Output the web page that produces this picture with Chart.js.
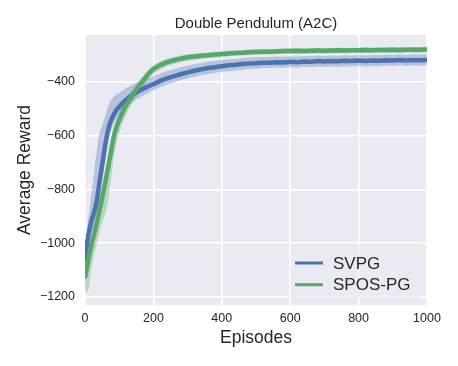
<!DOCTYPE html>
<html>
<head>
<meta charset="utf-8">
<script src="https://cdn.jsdelivr.net/npm/chart.js@4/dist/chart.umd.min.js"></script>
<style>
  html, body { margin: 0; padding: 0; background: #ffffff; }
  canvas { display: block; }
</style>
</head>
<body>
<canvas id="c" width="458" height="366"></canvas>
<script>
// ---- data ----
const chartTitle = 'Double Pendulum (A2C)';
const episodes = [0,5,10,15,20,25,30,35,40,45,50,55,60,65,70,75,80,85,90,95,100,
  110,120,130,140,150,160,170,180,190,200,
  220,240,260,280,300,320,340,360,380,400,420,440,460,480,500,520,540,560,580,600,
  620,640,660,680,700,720,740,760,780,800,820,840,860,880,900,920,940,960,980,1000];

const svpgMean = [-1070,-1010,-968,-938,-912,-892,-870,-840,-795,-752,-712,-670,-628,-592,-566,-547,-532,-519,-508,-499,-492,
  -478,-466,-456,-447,-439,-432,-425,-419,-413,-408,
  -396,-386,-378,-371,-364,-358,-353,-348,-345,-341,-338,-336,-333,-331,-330,-328,-328,-326,-327,-325,
  -326,-324,-325,-322,-324,-322,-323,-321,-322,-320,-322,-320,-321,-319,-320,-318,-320,-318,-319,-318];

const svpgUpSpread = [30,50,65,80,107,140,170,190,195,175,150,128,105,92,84,78,72,66,60,56,52,
  46,43,40,38,36,34,32,31,30,29,
  28,27,26,26,25,25,24,24,23,23,23,22,22,22,22,21,21,21,21,21,
  21,21,21,21,21,21,21,21,21,21,21,21,21,21,21,21,21,21,21,21];

const svpgDownSpread = [40,45,45,45,48,50,50,50,50,48,46,44,42,40,38,36,34,33,32,31,30,
  30,29,28,27,26,26,25,25,24,24,
  23,23,23,22,22,22,22,22,21,21,21,21,21,21,21,20,20,20,20,20,
  20,20,20,20,20,20,20,20,20,20,20,20,20,20,20,20,20,20,20,20];

const sposMean = [-1130,-1095,-1060,-1028,-1000,-975,-950,-922,-893,-863,-832,-800,-768,-735,-700,-666,-630,-598,-576,-558,-542,
  -513,-488,-466,-447,-429,-411,-395,-378,-364,-352,
  -337,-326,-319,-313,-308,-305,-302,-300,-298,-296,-294,-292,-291,-289,-288,-287,-287,-286,-285,-285,
  -284,-285,-284,-283,-284,-283,-282,-283,-282,-282,-281,-282,-281,-281,-280,-281,-280,-280,-280,-279];

const sposUpSpread = [30,35,40,40,40,40,40,40,40,40,40,40,40,38,36,35,34,33,32,31,30,
  28,26,24,22,20,19,18,17,16,15,
  14,13,12,12,11,11,10,10,10,10,10,10,10,10,10,10,10,10,10,10,
  10,10,10,10,10,10,10,10,10,10,10,10,10,10,10,10,10,10,10,10];

const sposDownSpread = [40,90,112,100,85,78,75,75,78,82,90,105,120,125,120,108,92,75,60,52,46,
  40,35,31,28,26,24,22,20,18,17,
  16,15,14,13,13,12,12,11,11,11,10,10,10,10,10,10,10,10,10,10,
  10,10,10,10,10,10,10,10,10,10,10,10,10,10,10,10,10,10,10,10];

const xTicks = [0,200,400,600,800,1000];
const yTicks = [-1200,-1000,-800,-600,-400];
const seriesNames = ['SVPG','SPOS-PG'];

// ---- build points ----
const pts = (ys) => episodes.map((x, i) => ({x: x, y: ys[i]}));
const addPts = (m, s, sign) => episodes.map((x, i) => ({x: x, y: m[i] + sign * s[i]}));

const BLUE = '#4C72B0', GREEN = '#55A868';
const TXT = '#262626';
const FONT = "'Liberation Sans', Arial, sans-serif";

const bgPlugin = {
  id: 'bg',
  beforeDraw(chart) {
    const a = chart.chartArea, ctx = chart.ctx;
    ctx.save();
    ctx.fillStyle = '#EAEAF2';
    ctx.fillRect(a.left, a.top, a.right - a.left, a.bottom - a.top);
    ctx.restore();
  }
};

const titlePlugin = {
  id: 'axTitle',
  afterDraw(chart) {
    const a = chart.chartArea, ctx = chart.ctx;
    ctx.save();
    ctx.font = "15px " + FONT;
    ctx.fillStyle = TXT;
    ctx.textAlign = 'center';
    ctx.textBaseline = 'middle';
    ctx.fillText(chartTitle, (a.left + a.right) / 2, 23.5);
    ctx.restore();
  }
};

const legendPlugin = {
  id: 'insideLegend',
  afterDraw(chart) {
    const ctx = chart.ctx, a = chart.chartArea;
    const items = [
      {label: chart.data.datasets[4].label, color: chart.data.datasets[4].borderColor},
      {label: chart.data.datasets[5].label, color: chart.data.datasets[5].borderColor}
    ];
    ctx.save();
    const boxL = a.right - 136, boxT = a.bottom - 60, boxW = 129, boxH = 53;
    ctx.fillStyle = 'rgba(234,234,242,0.8)';
    ctx.fillRect(boxL, boxT, boxW, boxH);
    ctx.font = "17px " + FONT;
    ctx.textBaseline = 'middle';
    ctx.textAlign = 'left';
    items.forEach((it, i) => {
      const y = boxT + 18 + i * 21.7;
      ctx.strokeStyle = it.color;
      ctx.lineWidth = 3;
      ctx.beginPath();
      ctx.moveTo(boxL + 4, y);
      ctx.lineTo(boxL + 32, y);
      ctx.stroke();
      ctx.fillStyle = TXT;
      ctx.fillText(it.label, boxL + 42, y + 1);
    });
    ctx.restore();
  }
};

const fmt = (v) => v < 0 ? '\u2212' + Math.abs(v) : String(v);

new Chart(document.getElementById('c'), {
  type: 'line',
  data: {
    datasets: [
      {label: 'svpg_hi', data: addPts(svpgMean, svpgUpSpread, 1), borderWidth: 0, pointRadius: 0,
       fill: '+1', backgroundColor: 'rgba(76,114,176,0.33)', order: 3},
      {label: 'svpg_lo', data: addPts(svpgMean, svpgDownSpread, -1), borderWidth: 0, pointRadius: 0,
       fill: false, order: 3},
      {label: 'spos_hi', data: addPts(sposMean, sposUpSpread, 1), borderWidth: 0, pointRadius: 0,
       fill: '+1', backgroundColor: 'rgba(85,168,104,0.33)', order: 2},
      {label: 'spos_lo', data: addPts(sposMean, sposDownSpread, -1), borderWidth: 0, pointRadius: 0,
       fill: false, order: 2},
      {label: seriesNames[0], data: pts(svpgMean), borderColor: BLUE, borderWidth: 4.5, pointRadius: 0,
       fill: false, order: 1},
      {label: seriesNames[1], data: pts(sposMean), borderColor: GREEN, borderWidth: 4.5, pointRadius: 0,
       fill: false, order: 0}
    ]
  },
  options: {
    responsive: false,
    animation: false,
    devicePixelRatio: 1,
    layout: {padding: {left: 0, right: 31, top: 35, bottom: 0}},
    plugins: {
      legend: {display: false},
      tooltip: {enabled: false},
      title: {display: false}
    },
    scales: {
      x: {
        type: 'linear',
        min: 0, max: 1000,
        afterBuildTicks: (s) => { s.ticks = xTicks.map(v => ({value: v})); },
        afterFit: (s) => { s.height = 61; },
        grid: {color: '#ffffff', lineWidth: 1.6, drawTicks: false},
        border: {display: false},
        ticks: {color: TXT, font: {family: FONT, size: 12.5}, padding: 6, callback: fmt, maxRotation: 0},
        title: {display: true, text: 'Episodes', color: TXT,
                font: {family: FONT, size: 17.5}, padding: {top: 3, bottom: 17.5}}
      },
      y: {
        type: 'linear',
        min: -1230, max: -225,
        afterBuildTicks: (s) => { s.ticks = yTicks.map(v => ({value: v})); },
        afterFit: (s) => { s.width = 85; },
        grid: {color: '#ffffff', lineWidth: 1.6, drawTicks: false},
        border: {display: false},
        ticks: {color: TXT, font: {family: FONT, size: 12.5}, padding: 10, callback: fmt},
        title: {display: true, text: 'Average Reward', color: TXT,
                font: {family: FONT, size: 17.5}, padding: {top: 15, bottom: 0}}
      }
    }
  },
  plugins: [bgPlugin, titlePlugin, legendPlugin]
});
</script>
</body>
</html>
